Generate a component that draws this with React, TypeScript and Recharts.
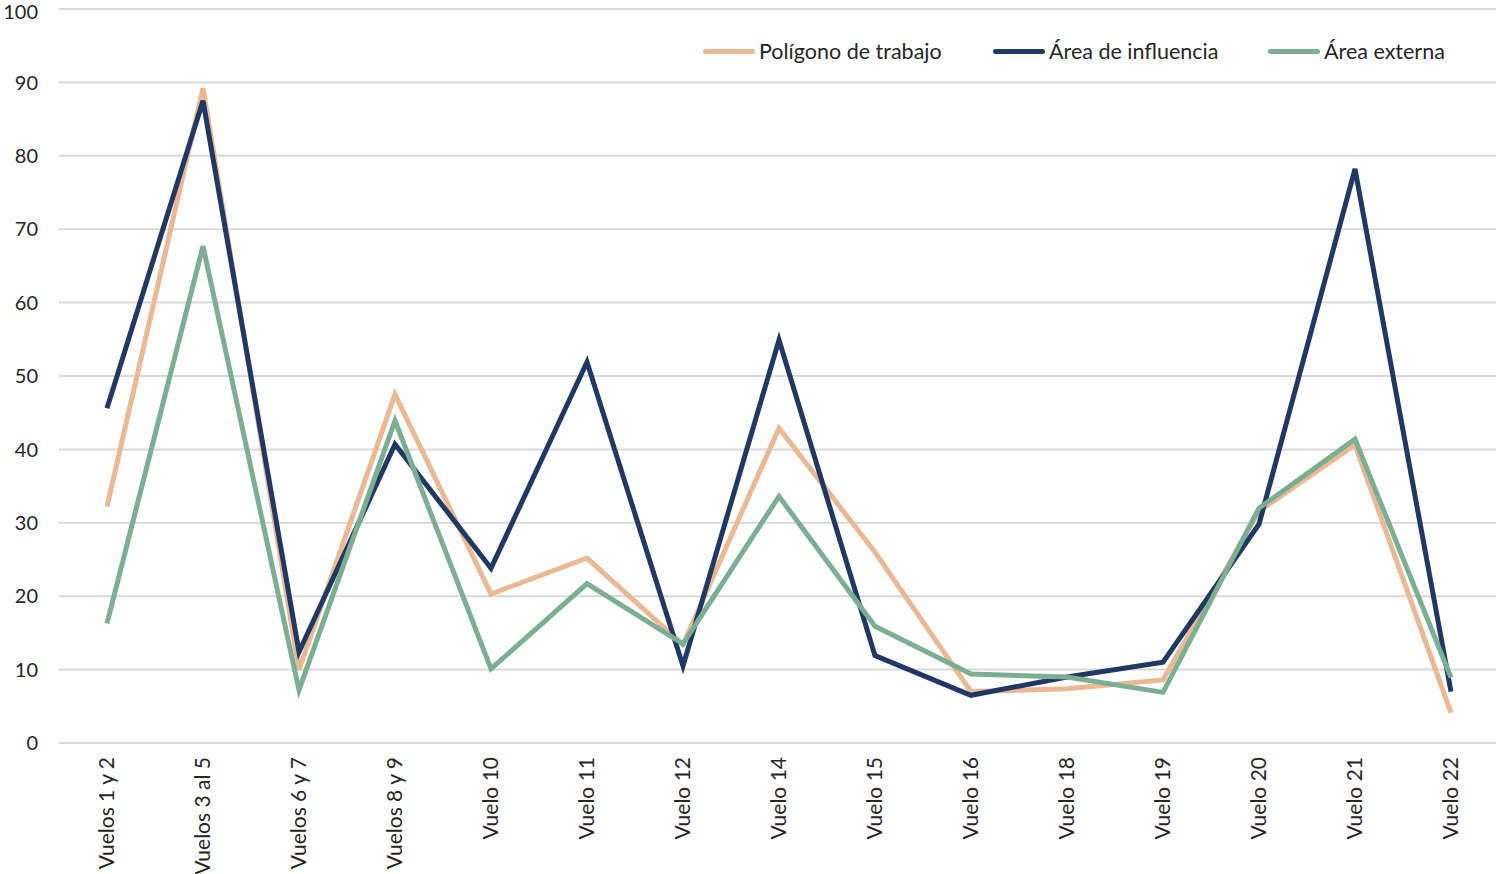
import { LineChart, Line, XAxis, YAxis, CartesianGrid } from "recharts";

const categories = [
  "Vuelos 1 y 2",
  "Vuelos 3 al 5",
  "Vuelos 6 y 7",
  "Vuelos 8 y 9",
  "Vuelo 10",
  "Vuelo 11",
  "Vuelo 12",
  "Vuelo 14",
  "Vuelo 15",
  "Vuelo 16",
  "Vuelo 18",
  "Vuelo 19",
  "Vuelo 20",
  "Vuelo 21",
  "Vuelo 22",
];

const poligono = [32.2, 89.2, 10.0, 47.5, 20.3, 25.2, 13.4, 42.9, 26.0, 7.0, 7.4, 8.6, 31.6, 40.6, 4.1];
const influencia = [45.6, 87.5, 12.4, 40.7, 23.8, 51.9, 10.5, 54.9, 11.9, 6.5, 9.0, 11.0, 29.8, 78.2, 7.0];
const externa = [16.3, 67.7, 7.2, 43.9, 10.1, 21.7, 13.5, 33.6, 15.9, 9.4, 9.0, 6.9, 32.0, 41.4, 8.9];

const yTicks = [0, 10, 20, 30, 40, 50, 60, 70, 80, 90, 100];

const series = [
  { key: "poligono", name: "Polígono de trabajo", color: "#EBB894" },
  { key: "influencia", name: "Área de influencia", color: "#1F3864" },
  { key: "externa", name: "Área externa", color: "#7BAF93" },
];

const data = categories.map((name, i) => ({
  name,
  poligono: poligono[i],
  influencia: influencia[i],
  externa: externa[i],
}));

const FONT = "Lato, 'Liberation Sans', sans-serif";
const TEXT = "#262626";

function XTick(props: any) {
  const { x, y, payload } = props;
  return (
    <text
      x={x}
      y={y}
      transform={`rotate(-90, ${x}, ${y})`}
      textAnchor="end"
      dy="0.35em"
      fontSize={21}
      fontFamily={FONT}
      fill={TEXT}
    >
      {payload.value}
    </text>
  );
}

// legend drawn over the chart so it doesn't push the plot down
function ChartLegend() {
  const lefts = [703, 993, 1268];
  return (
    <div style={{ position: "absolute", top: 38, left: 0, fontFamily: FONT, fontSize: 21.5, color: TEXT }}>
      {series.map((s, i) => (
        <div
          key={s.key}
          style={{ position: "absolute", left: lefts[i], top: 0, display: "flex", alignItems: "center", whiteSpace: "nowrap" }}
        >
          <span style={{ display: "inline-block", width: 52, height: 5, borderRadius: 3, background: s.color, marginRight: 4 }} />
          <span>{s.name}</span>
        </div>
      ))}
    </div>
  );
}

export default function App() {
  return (
    <div style={{ position: "absolute", left: 0, top: 0, width: 1496, height: 874, background: "#fff" }}>
      <LineChart width={1496} height={874} data={data} margin={{ top: 9, right: 0, bottom: 0, left: 0 }}>
        <CartesianGrid vertical={false} stroke="#D9D9D9" strokeWidth={2} />
        <XAxis
          dataKey="name"
          axisLine={false}
          tickLine={false}
          interval={0}
          height={131}
          padding={{ left: 48, right: 45 }}
          tick={<XTick />}
          tickSize={0}
          tickMargin={14}
        />
        <YAxis
          domain={[0, 100]}
          ticks={yTicks}
          width={59}
          axisLine={false}
          tickLine={false}
          tickSize={0}
          tickMargin={21}
          tick={{ fontSize: 20, fontFamily: FONT, fill: TEXT }}
        />
        {series.map((s) => (
          <Line
            key={s.key}
            type="linear"
            dataKey={s.key}
            name={s.name}
            stroke={s.color}
            strokeWidth={5}
            dot={false}
            activeDot={false}
            isAnimationActive={false}
          />
        ))}
      </LineChart>
      <ChartLegend />
    </div>
  );
}
